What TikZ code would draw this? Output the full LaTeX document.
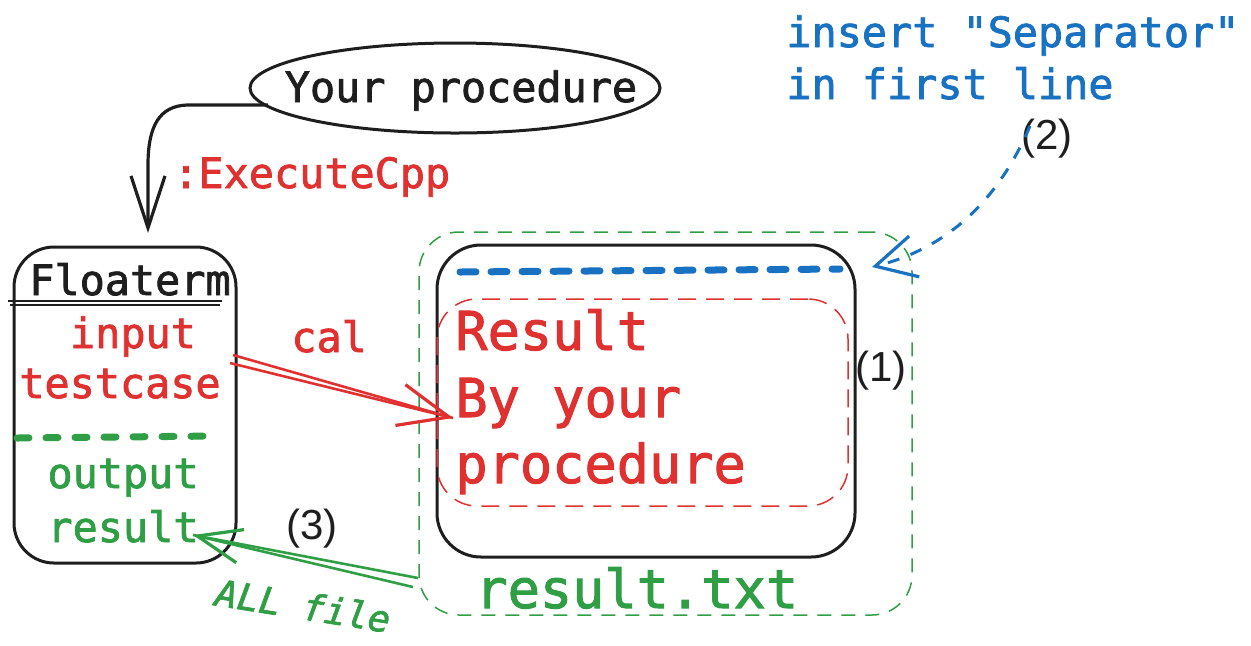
\documentclass[tikz,border=0pt]{standalone}
\usepackage{fontspec}
\setmonofont[FakeBold=1.8]{DejaVu Sans Mono}
\newfontfamily\labfont{Liberation Sans}
\usetikzlibrary{arrows.meta,shapes.geometric}
\definecolor{xred}{HTML}{E03131}
\definecolor{xgreen}{HTML}{2F9E44}
\definecolor{xblue}{HTML}{1971C2}
\definecolor{xblack}{HTML}{1E1E1E}
\begin{document}
\begin{tikzpicture}[x=0.5pt,y=-0.5pt,
  mono/.style={font=\ttfamily\fontsize{20.9}{26}\selectfont, inner sep=0pt},
  big/.style={font=\ttfamily\fontsize{26.8}{33.3}\selectfont, inner sep=0pt},
  small/.style={font=\ttfamily\itshape\fontsize{18.3}{22}\selectfont, inner sep=0pt},
  lab/.style={font=\labfont\fontsize{21}{25}\selectfont, inner sep=0pt, text=xblack},
  solidbox/.style={draw=xblack, line width=1.5pt, inner sep=0pt},
  thickdash/.style={line width=3.5pt, line cap=round, dash pattern=on 6pt off 8.5pt},
  barb/.style={-{Straight Barb[length=#1, width=17pt, line width=1.6pt]}},
  wbarb/.style={-{Straight Barb[length=#1, width=21pt, line width=1.6pt]}},
]
\useasboundingbox (0,0) rectangle (1251,645);

% ellipse
\node[ellipse, draw=xblack, line width=1.5pt, minimum width=205pt, minimum height=45pt, inner sep=0pt] (proc) at (455,88) {};
\node[mono, text=xblack, anchor=base] (proctxt) at (461,102) {Your procedure};

% Floaterm box
\node[solidbox, rounded corners=20pt, minimum width=111pt, minimum height=158pt] (fl) at (125,405) {};
\node[mono, text=xblack, anchor=base] (fltitle) at (130,295) {Floaterm};
\coordinate (ulA) at (8,301); \coordinate (ulB) at (222,301);
\coordinate (ulC) at (10,305); \coordinate (ulD) at (220,305);
\draw[xblack, line width=0.6pt] (ulA) -- (ulB);
\draw[xblack, line width=0.6pt] (ulC) -- (ulD);
\node[mono, text=xred, anchor=base] (inp) at (133,348) {input};
\node[mono, text=xred, anchor=base] (tc) at (120,398) {testcase};
\coordinate (gdA) at (17,438); \coordinate (gdB) at (216,436);
\draw[xgreen, thickdash] (gdA) -- (gdB);
\node[mono, text=xgreen, anchor=base] (outp) at (123,488) {output};
\node[mono, text=xgreen, anchor=base] (resl) at (123,542) {result};

% result file
\node[draw=xgreen, line width=0.75pt, dash pattern=on 7pt off 5pt, rounded corners=20pt,
      minimum width=246.5pt, minimum height=191.5pt, inner sep=0pt] (gbox) at (665.5,423.5) {};
\node[solidbox, rounded corners=22pt, minimum width=209pt, minimum height=156pt] (res) at (646,401) {};
\node[draw=xred, line width=0.75pt, dash pattern=on 9pt off 5pt, rounded corners=20pt,
      minimum width=205.5pt, minimum height=103.5pt, inner sep=0pt] (rbox) at (642.5,402.5) {};
\coordinate (sepL) at (460,272); \coordinate (sepR) at (840,269);
\draw[xblue, thickdash, dash pattern=on 8pt off 7.5pt] (sepL) -- (sepR);
\node[big, text=xred, anchor=base west] (r1) at (455,350) {Result};
\node[big, text=xred, anchor=base west] (r2) at (455,417) {By your};
\node[big, text=xred, anchor=base west] (r3) at (455,483) {procedure};
\node[big, text=xgreen, anchor=base west] (rtxt) at (475,608) {result.txt};
\node[lab, anchor=base west] (n1) at (855,381) {(1)};

% top right note
\node[mono, text=xblue, anchor=base west] (ins1) at (786,47) {insert "Separator"};
\node[mono, text=xblue, anchor=base west] (ins2) at (786,99) {in first line};
\node[lab, anchor=base west] (n2) at (1021,149) {(2)};

% labels
\node[mono, text=xred, anchor=base west] (exe) at (173,188) {:ExecuteCpp};
\node[mono, text=xred, anchor=base west] (cal) at (291,352) {cal};
\node[lab, anchor=base west] (n3) at (286,539) {(3)};
\node[small, text=xgreen, anchor=base, rotate=-9] (allf) at (301,619) {ALL file};

% connectors
\coordinate (pA) at (268,105);
\coordinate (pTip) at (148,233);
\draw[xblack, line width=1.6pt, barb=26pt] (pA) -- (187,105) .. controls (160,106) and (148,125) .. (148,165) -- (pTip);

\coordinate (cA1) at (233,355); \coordinate (cA2) at (230,363);
\coordinate (cTip) at (453,418);
\draw[xred, line width=1.3pt] (cA1) -- (cTip);
\draw[xred, line width=1.3pt, wbarb=25pt] (cA2) -- (cTip);

\coordinate (aA1) at (418,578); \coordinate (aA2) at (413,587);
\coordinate (aTip) at (193,535);
\draw[xgreen, line width=1.3pt] (aA1) -- (aTip);
\draw[xgreen, line width=1.3pt, barb=22pt] (aA2) -- (aTip);

\coordinate (bA) at (1030,126);
\coordinate (bTip) at (872,267);
\draw[xblue, line width=1.5pt, dash pattern=on 6pt off 6pt, wbarb=20pt] (bA) .. controls (1005,185) and (960,245) .. (bTip);
\end{tikzpicture}
\end{document}
